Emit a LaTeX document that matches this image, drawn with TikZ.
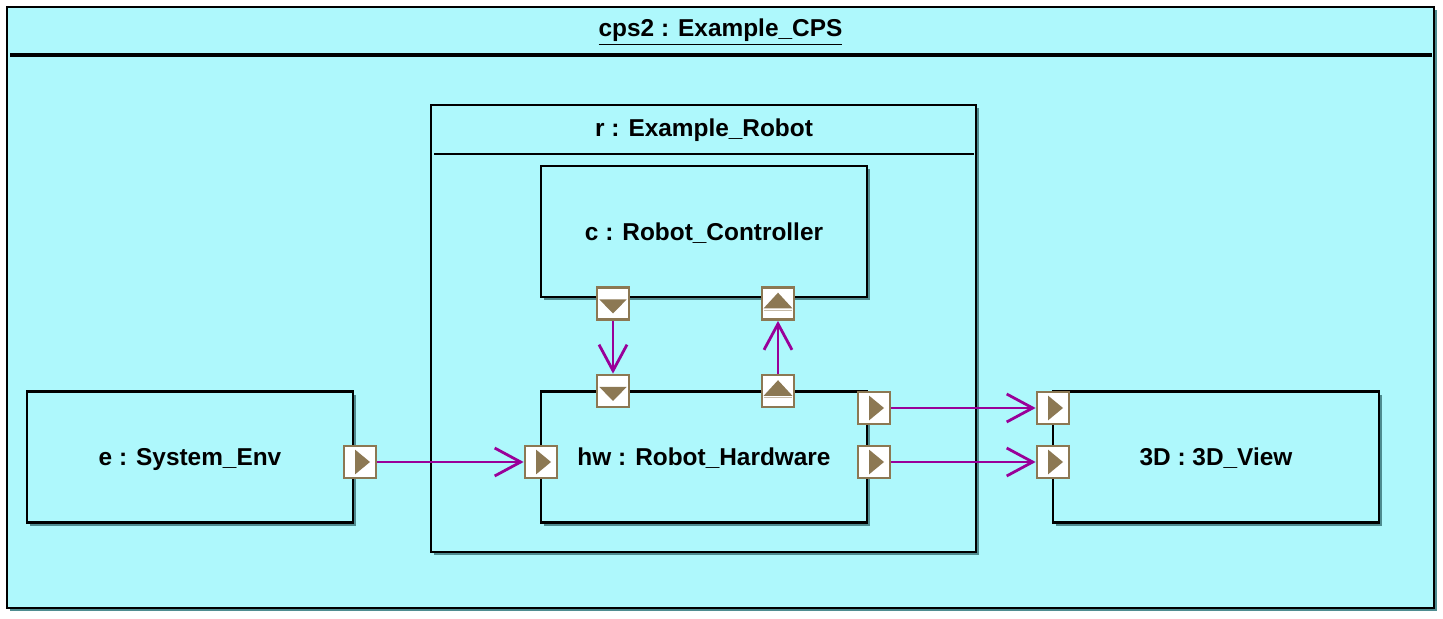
\documentclass[tikz,border=0pt]{standalone}
\usepackage{fontspec}
\setmainfont{Liberation Sans}
\usetikzlibrary{arrows.meta,shadows}
\definecolor{bg}{HTML}{AEF8FC}
\definecolor{shad}{HTML}{4F8C90}
\definecolor{portbrown}{HTML}{8C7853}
\definecolor{conn}{HTML}{990099}
\begin{document}
\begin{tikzpicture}[x=0.5pt,y=-0.5pt,
  txt/.style={font=\fontsize{12.2}{14}\selectfont\bfseries, inner sep=0pt},
  frame/.style={draw=black, line width=1.3pt, fill=bg, inner sep=0pt,
    drop shadow={shadow xshift=1.6pt, shadow yshift=-1.6pt, fill=shad, opacity=1}},
  part/.style={frame, minimum width=163pt, minimum height=65.5pt, txt, text height=8.8pt, text depth=0pt},
  port/.style={draw=portbrown, line width=1.4pt, fill=white, minimum size=16pt, inner sep=0pt,
    drop shadow={shadow xshift=0.7pt, shadow yshift=-0.7pt, fill=portbrown!60!black, opacity=1}},
  portR/.style={port, path picture={\fill[portbrown] ([xshift=-2.5pt,yshift=6.2pt]path picture bounding box.center) -- ++(0,-12.4pt) -- ++(7.5pt,6.2pt) -- cycle;}},
  portD/.style={port, path picture={\fill[portbrown] ([xshift=-6.8pt,yshift=2pt]path picture bounding box.center) -- ++(13.6pt,0) -- ++(-6.8pt,-7pt) -- cycle;}},
  portU/.style={port, path picture={\fill[portbrown] ([xshift=-7.2pt,yshift=-2.4pt]path picture bounding box.center) -- ++(14.4pt,0) -- ++(-7.2pt,7.8pt) -- cycle;
     \draw[portbrown!50, line width=0.5pt] ([xshift=-7.2pt,yshift=-3.3pt]path picture bounding box.center) -- ++(14.4pt,0);}},
  flow/.style={draw=conn, line width=1.4pt, -{Straight Barb[length=13pt, width=14pt, line width=1.4pt]}}
]
\useasboundingbox (0,0) rectangle (1443,619);
% outer frame
\node[frame, minimum width=713.5pt, minimum height=300.5pt] (cps) at (720.5,307.5) {};
\draw[line width=1.6pt] (10,55) -- (1432,55);
\node[txt] (cpst) at (720.5,32) {\underline{cps2 : Example\_CPS}};
% robot frame
\node[frame, minimum width=272.5pt, minimum height=223.5pt] (r) at (703.5,328.5) {};
\draw[line width=1.4pt] (434,154) -- (974,154);
\node[txt] (rt) at (704,130) {r : Example\_Robot};
% parts
\node[part] (c) at (704,231.5) {c : Robot\_Controller};
\node[part] (hw) at (704,457) {hw : Robot\_Hardware};
\node[part] (e) at (190,457) {e : System\_Env};
\node[part] (v) at (1216,457) {3D : 3D\_View};
% ports
\node[portD] (cout) at (613,303.5) {};
\node[portU] (cin) at (778,303.5) {};
\node[portD] (hwin) at (613,391) {};
\node[portU] (hwout) at (778,391) {};
\node[portR] (eout) at (360,462) {};
\node[portR] (hwenv) at (541,462) {};
\node[portR] (hwv1) at (874,408) {};
\node[portR] (hwv2) at (874,462) {};
\node[portR] (v1) at (1053,408) {};
\node[portR] (v2) at (1053,462) {};
% connectors
\draw[flow] (cout) -- (hwin);
\draw[flow] (hwout) -- (cin);
\draw[flow] (eout) -- (hwenv);
\draw[flow] (hwv1) -- (v1);
\draw[flow] (hwv2) -- (v2);
\end{tikzpicture}
\end{document}
